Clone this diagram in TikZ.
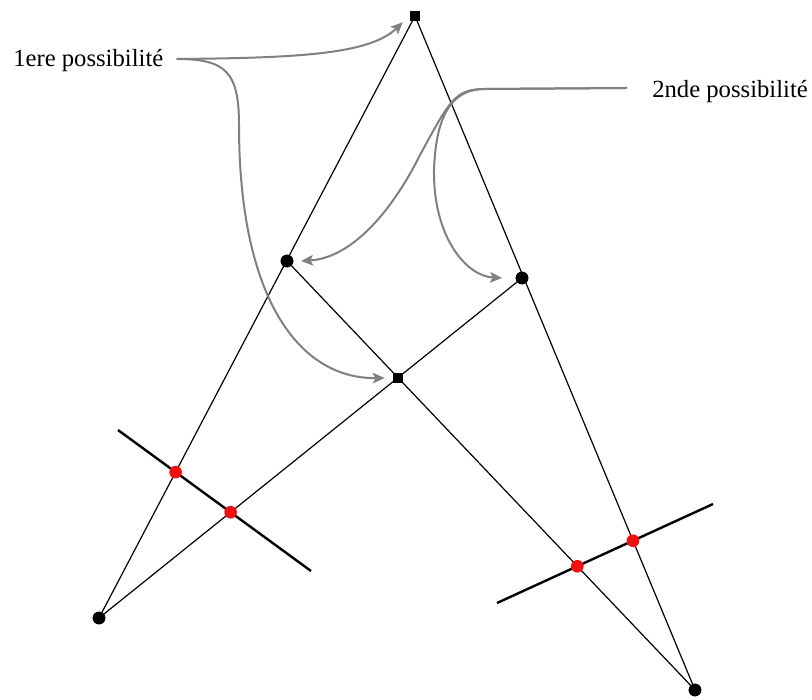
\documentclass[tikz,border=0pt]{standalone}
\usepackage{fontspec}
\setmainfont{Liberation Serif}
\usetikzlibrary{arrows.meta}
\definecolor{arrowgray}{RGB}{128,128,128}
\definecolor{dotred}{RGB}{240,16,16}
\begin{document}
\begin{tikzpicture}[x=0.75pt,y=-0.75pt,
  conline/.style={line width=0.9pt,draw=black},
  thickline/.style={line width=1.8pt,draw=black},
  sqnode/.style={rectangle,fill=black,minimum size=7.5pt,inner sep=0pt},
  bdot/.style={circle,fill=black,minimum size=9.5pt,inner sep=0pt},
  rdot/.style={circle,fill=dotred,minimum size=9.5pt,inner sep=0pt},
  garrow/.style={draw=arrowgray,line width=1.5pt,-{Stealth[length=9pt,width=8pt,inset=2pt]}},
  lab/.style={font=\fontsize{18.5}{22}\selectfont,inner sep=0pt}
]
\useasboundingbox (0,0) rectangle (812,699);

% main points
\node[sqnode] (top) at (415,16) {};
\node[bdot] (L) at (287,261) {};
\node[bdot] (R) at (522,278) {};
\node[sqnode] (C) at (398,378) {};
\node[bdot] (BL) at (99,618) {};
\node[bdot] (BR) at (695,690) {};

% construction lines
\draw[conline] (top.center) -- (BL.center);
\draw[conline] (top.center) -- (BR.center);
\draw[conline] (L.center) -- (BR.center);
\draw[conline] (R.center) -- (BL.center);

% thick lines
\coordinate (t1a) at (118,430);
\coordinate (t1b) at (311,571);
\coordinate (t2a) at (497,603);
\coordinate (t2b) at (713,504);
\draw[thickline] (t1a) -- (t1b);
\draw[thickline] (t2a) -- (t2b);

% red intersection dots
\node[rdot] (r1) at (intersection of top.center--BL.center and t1a--t1b) {};
\node[rdot] (r2) at (intersection of R.center--BL.center and t1a--t1b) {};
\node[rdot] (r3) at (intersection of L.center--BR.center and t2a--t2b) {};
\node[rdot] (r4) at (intersection of top.center--BR.center and t2a--t2b) {};

% redraw black points on top
\node[sqnode] at (top.center) {};
\node[bdot] at (L.center) {};
\node[bdot] at (R.center) {};
\node[sqnode] at (C.center) {};
\node[bdot] at (BL.center) {};
\node[bdot] at (BR.center) {};

% labels
\node[lab,anchor=base west] (l1) at (13,66) {1ere possibilité};
\node[lab,anchor=base west] (l2) at (652,97) {2nde possibilité};

% arrows of the first possibility
\draw[garrow] ([xshift=9.75pt,yshift=0.8pt]l1.east)
  .. controls (300,58) and (370,54) .. ([xshift=-5.25pt,yshift=-0.75pt]top.south west);
\draw[garrow] ([xshift=9.75pt,yshift=0.8pt]l1.east)
  .. controls (226,59) and (239,72) .. (239,125)
  .. controls (239,300) and (300,379) .. ([xshift=-6pt]C.west);

% arrows of the second possibility
\draw[garrow] ([xshift=-18.75pt,yshift=2.3pt]l2.west) -- (485,89)
  .. controls (455,89) and (450,100) .. (420,155)
  .. controls (390,215) and (350,258) .. ([xshift=5.6pt]L.east);
\draw[garrow] ([xshift=-18.75pt,yshift=2.3pt]l2.west) -- (485,89)
  .. controls (455,89) and (436,110) .. (434,170)
  .. controls (433,235) and (465,276) .. ([xshift=-10pt]R.west);
\end{tikzpicture}
\end{document}
